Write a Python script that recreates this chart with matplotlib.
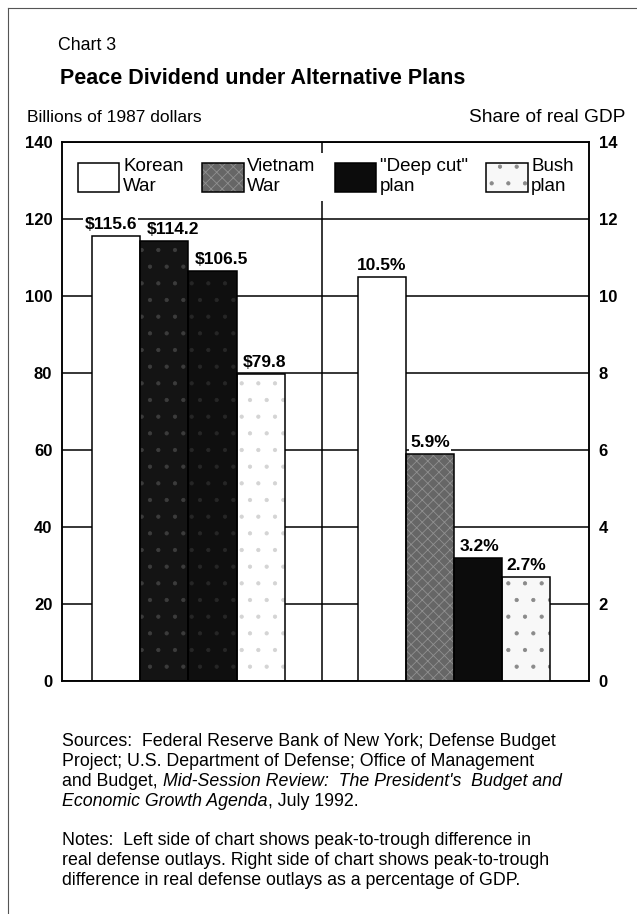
import matplotlib.pyplot as plt
from matplotlib.patches import Patch
from matplotlib.lines import Line2D
import numpy as np

plt.rcParams['font.family'] = ['Liberation Sans', 'DejaVu Sans']
plt.rcParams['hatch.linewidth'] = 0.6

plans = ['Korean\nWar', 'Vietnam\nWar', '"Deep cut"\nplan', 'Bush\nplan']
billions = [115.6, 114.2, 106.5, 79.8]
share_gdp = [10.5, 5.9, 3.2, 2.7]
billion_labels = ['$115.6', '$114.2', '$106.5', '$79.8']
share_labels = ['10.5%', '5.9%', '3.2%', '2.7%']
left_ticks = [0, 20, 40, 60, 80, 100, 120, 140]
right_ticks = [0, 2, 4, 6, 8, 10, 12, 14]

# (fill, hatch, hatch colour) for each plan
left_style = [('white', None, 'white'), ('#141414', '.', '#3c3c3c'),
              ('#0f0f0f', '.', '#262626'), ('white', '.', '#d4d4d4')]
right_style = [('white', None, 'white'), ('#666666', 'xxx', '#909090'),
               ('#0c0c0c', None, '#0c0c0c'), ('#f8f8f8', '.', '#8a8a8a')]
# small sideways nudges of the value labels, in points
left_nudge = [-4, 6.5, 6.5, 2.5]
right_nudge = [0, 0, 1, 0]

fig = plt.figure(figsize=(6.37, 9.14), dpi=100)
W, H = 637, 914
ax = fig.add_axes([62 / W, 1 - 681 / H, 527 / W, 539 / H])

w = 0.181
offsets = (np.arange(4) - 1.5) * w


def draw_bars(axis, centre, values, styles, labels, nudge):
    for off, v, (fc, h, hc), lab, dx in zip(offsets, values, styles, labels, nudge):
        axis.bar(centre + off, v, w, color=fc, hatch=h, edgecolor=hc,
                 linewidth=0, zorder=2)
        axis.bar(centre + off, v, w, fill=False, edgecolor='black',
                 linewidth=1.1, zorder=3)
        axis.annotate(lab, (centre + off, v), xytext=(dx, 3),
                      textcoords='offset points', ha='center', va='bottom',
                      fontsize=12.5, fontweight='bold', zorder=4,
                      bbox=dict(facecolor='white', edgecolor='none', pad=1))


ax.set_xlim(-0.476, 1.508)
ax.set_ylim(0, 140)
ax.set_yticks(left_ticks)
ax.set_xticks([])
ax.grid(axis='y', color='black', linewidth=1.1)
ax.set_axisbelow(True)
ax.axvline(0.503, color='black', linewidth=1.1, zorder=1)
ax.tick_params(axis='y', length=0, pad=7, labelsize=12)
for lab in ax.get_yticklabels():
    lab.set_fontweight('bold')
draw_bars(ax, 0, billions, left_style, billion_labels, left_nudge)

ax2 = ax.twinx()
ax2.set_ylim(0, 14)
ax2.set_yticks(right_ticks)
ax2.tick_params(axis='y', length=0, pad=7, labelsize=12)
for lab in ax2.get_yticklabels():
    lab.set_fontweight('bold')
draw_bars(ax2, 1, share_gdp, right_style, share_labels, right_nudge)

for a in (ax, ax2):
    for s in a.spines.values():
        s.set_linewidth(1.1)

handles = [(Patch(facecolor=fc, hatch=h, edgecolor=hc, linewidth=0),
            Patch(fill=False, edgecolor='black', linewidth=1.1))
           for fc, h, hc in right_style]
leg = ax2.legend(handles, plans, loc='upper left', bbox_to_anchor=(0.02, 0.98),
                 ncol=4, frameon=True, fancybox=False, edgecolor='none',
                 facecolor='white', framealpha=1, fontsize=13.5,
                 handlelength=2.2, handleheight=2.0, handletextpad=0.2,
                 columnspacing=1.0, borderpad=0.3, borderaxespad=0)
leg.set_zorder(10)

fig.text(58 / W, 1 - 45 / H, 'Chart 3', fontsize=12.8, va='center')
fig.text(60 / W, 1 - 78 / H, 'Peace Dividend under Alternative Plans',
         fontsize=15.5, fontweight='bold', va='center')
fig.text(27 / W, 1 - 118 / H, 'Billions of 1987 dollars', fontsize=12.5, va='center')
fig.text(625 / W, 1 - 118 / H, 'Share of real GDP', fontsize=13.8,
         ha='right', va='center')

# page frame
fig.add_artist(Line2D([8 / W, 8 / W], [0, 1 - 8 / H], transform=fig.transFigure,
                      color='#555555', linewidth=0.8))
fig.add_artist(Line2D([8 / W, 1], [1 - 8 / H, 1 - 8 / H], transform=fig.transFigure,
                      color='#555555', linewidth=0.8))

renderer = fig.canvas.get_renderer()


def text_run(x_px, y_px, parts, size=12.8):
    x = x_px / W
    for s, style in parts:
        if x != x_px / W and s[0].isalnum():
            x += size * 0.278 * 100 / 72 / W
        t = fig.text(x, 1 - y_px / H, s, style=style, fontsize=size, va='baseline')
        bb = t.get_window_extent(renderer=renderer)
        x = bb.x1 / W


notes = [
    (746, [('Sources:  Federal Reserve Bank of New York; Defense Budget', 'normal')]),
    (766, [('Project; U.S. Department of Defense; Office of Management', 'normal')]),
    (786, [('and Budget,', 'normal'),
           ("Mid-Session Review:  The President's  Budget and", 'italic')]),
    (806, [('Economic Growth Agenda', 'italic'), (', July 1992.', 'normal')]),
    (845, [('Notes:  Left side of chart shows peak-to-trough difference in', 'normal')]),
    (865, [('real defense outlays. Right side of chart shows peak-to-trough', 'normal')]),
    (885, [('difference in real defense outlays as a percentage of GDP.', 'normal')]),
]
for y, parts in notes:
    text_run(62, y, parts)

fig.savefig('out.png', dpi=100)
